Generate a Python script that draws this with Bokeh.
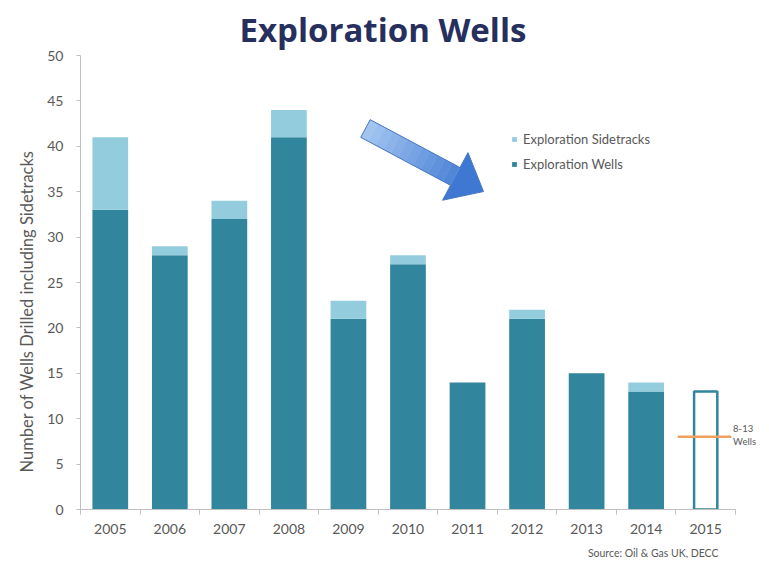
import numpy as np
from bokeh.plotting import figure
from bokeh.models import (ColumnDataSource, FixedTicker, Label, Legend, LegendItem,
                          Range1d, Title)
from bokeh.embed import file_html
from bokeh.resources import INLINE

years = ["2005", "2006", "2007", "2008", "2009", "2010", "2011", "2012", "2013", "2014"]
wells = [33, 28, 32, 41, 21, 27, 14, 21, 15, 13]
sidetracks = [8, 1, 2, 3, 2, 1, 0, 1, 0, 1]
forecast_year = "2015"
forecast_high = 13
forecast_low = 8
y_ticks = [0, 5, 10, 15, 20, 25, 30, 35, 40, 45, 50]

all_years = years + [forecast_year]
n = len(all_years)
xc = [i + 0.5 for i in range(n)]

FONT = "Lato"
DARK = "#31859C"
LIGHT = "#93CDDD"
GREY = "#595959"

X_MAX = n + 0.37
p = figure(width=769, height=567, output_backend="svg", toolbar_location=None,
           x_range=Range1d(0, X_MAX), y_range=Range1d(0, 50),
           min_border_left=80, min_border_right=12, min_border_top=55, min_border_bottom=58)
p.outline_line_color = None
p.grid.grid_line_color = None
p.background_fill_color = "white"

src = ColumnDataSource(dict(x=xc[:len(years)], wells=wells,
                            top=[w + s for w, s in zip(wells, sidetracks)]))
r_w = p.vbar(x="x", bottom=0, top="wells", width=0.6, source=src,
             fill_color=DARK, line_color=None)
r_s = p.vbar(x="x", bottom="wells", top="top", width=0.6, source=src,
             fill_color=LIGHT, line_color=None)
# forecast bar
p.vbar(x=[xc[-1]], bottom=[0], top=[forecast_high], width=0.39,
       fill_color="white", line_color=DARK, line_width=2.5)
p.segment(x0=[xc[-1] - 0.47], x1=[xc[-1] + 0.43], y0=[forecast_low], y1=[forecast_low],
          line_color="#F0A060", line_width=2.5)

# axes
xax = p.xaxis[0]
xax.bounds = (0, n)
xax.ticker = FixedTicker(ticks=xc, minor_ticks=list(range(n + 1)))
xax.major_label_overrides = {x: y for x, y in zip(xc, all_years)}
xax.major_tick_line_color = None
xax.minor_tick_line_color = "#BFBFBF"
xax.minor_tick_out = 5
xax.minor_tick_in = 0
xax.axis_line_color = "#BFBFBF"
xax.major_label_text_font = FONT
xax.major_label_text_font_size = "14px"
xax.major_label_text_color = GREY
xax.major_label_standoff = 8

yax = p.yaxis[0]
yax.ticker = FixedTicker(ticks=y_ticks)
yax.minor_tick_line_color = None
yax.major_tick_line_color = "#BFBFBF"
yax.major_tick_out = 4
yax.major_tick_in = 0
yax.axis_line_color = "#BFBFBF"
yax.major_label_text_font = FONT
yax.major_label_text_font_size = "14px"
yax.major_label_text_color = GREY
yax.major_label_standoff = 13

p.add_layout(Title(text="Number of Wells Drilled including Sidetracks", align="left",
                   offset=37, text_font=FONT, text_font_style="normal",
                   text_font_size="16.5px", text_color=GREY, standoff=16), "left")

# title
p.add_layout(Title(text="Exploration Wells", align="left", offset=159,
                   text_font="Open Sans", text_font_style="bold", text_font_size="33px",
                   text_color="#262F5E", standoff=7), "above")
# source note
p.add_layout(Title(text="Source: Oil & Gas UK, DECC", align="right", offset=39,
                   text_font=FONT, text_font_style="normal", text_font_size="10.5px",
                   text_color=GREY, standoff=16), "below")

# legend
legend = Legend(items=[LegendItem(label="Exploration Sidetracks", renderers=[r_s]),
                       LegendItem(label="Exploration Wells", renderers=[r_w])],
                location=(431, 337), border_line_color=None, background_fill_alpha=0,
                glyph_width=6, glyph_height=6, label_text_font=FONT,
                label_text_font_size="13px", label_text_color=GREY,
                spacing=9, padding=4, label_standoff=6)
p.add_layout(legend)

# arrow (decorative), defined in pixel offsets then mapped to data space
fx0, fy0 = 80.0, 509.0
sxp = (757.0 - 80.0) / X_MAX
syp = (509.0 - 55.0) / 50.0
tail = np.array([365.0, 128.0])
tip = np.array([483.0, 191.0])
d = tip - tail
L = np.hypot(*d)
u = d / L
nrm = np.array([-u[1], u[0]])
hl, sw, hw = 32.0, 10.0, 27.0
base = tip - u * hl


def to_data(pts):
    return [(q[0] - fx0) / sxp for q in pts], [(fy0 - q[1]) / syp for q in pts]


c0 = np.array([0xA6, 0xC8, 0xF2])
c1 = np.array([0x3F, 0x78, 0xD2])
nseg = 12
for k in range(nseg):
    t0, t1 = k / nseg, (k + 1) / nseg
    a = tail + (base - tail) * t0
    b = tail + (base - tail) * t1
    col = c0 + (c1 - c0) * (t0 + t1) / 2 * 0.85
    hx = "#%02x%02x%02x" % tuple(int(v) for v in col)
    xs, ys = to_data([a + nrm * sw, b + nrm * sw, b - nrm * sw, a - nrm * sw])
    p.patch(xs, ys, fill_color=hx, line_color=hx, line_width=0.5)
hx = "#%02x%02x%02x" % tuple(int(v) for v in c1)
xs, ys = to_data([base + nrm * hw, tip, base - nrm * hw])
p.patch(xs, ys, fill_color=hx, line_color=None)
outline = [tail + nrm * sw, base + nrm * sw, base + nrm * hw, tip,
           base - nrm * hw, base - nrm * sw, tail - nrm * sw]
xs, ys = to_data(outline)
p.patch(xs, ys, fill_alpha=0, line_color="#4A78C0", line_width=1)

# forecast annotation
p.add_layout(Label(x=xc[-1] + 0.46, y=forecast_low + 0.9, text="8-13",
                   text_font=FONT, text_font_size="9.5px", text_color=GREY,
                   text_baseline="middle"))
p.add_layout(Label(x=xc[-1] + 0.46, y=forecast_low - 0.5, text="Wells",
                   text_font=FONT, text_font_size="9.5px", text_color=GREY,
                   text_baseline="middle"))

open("out.html", "w").write(file_html(p, INLINE))
